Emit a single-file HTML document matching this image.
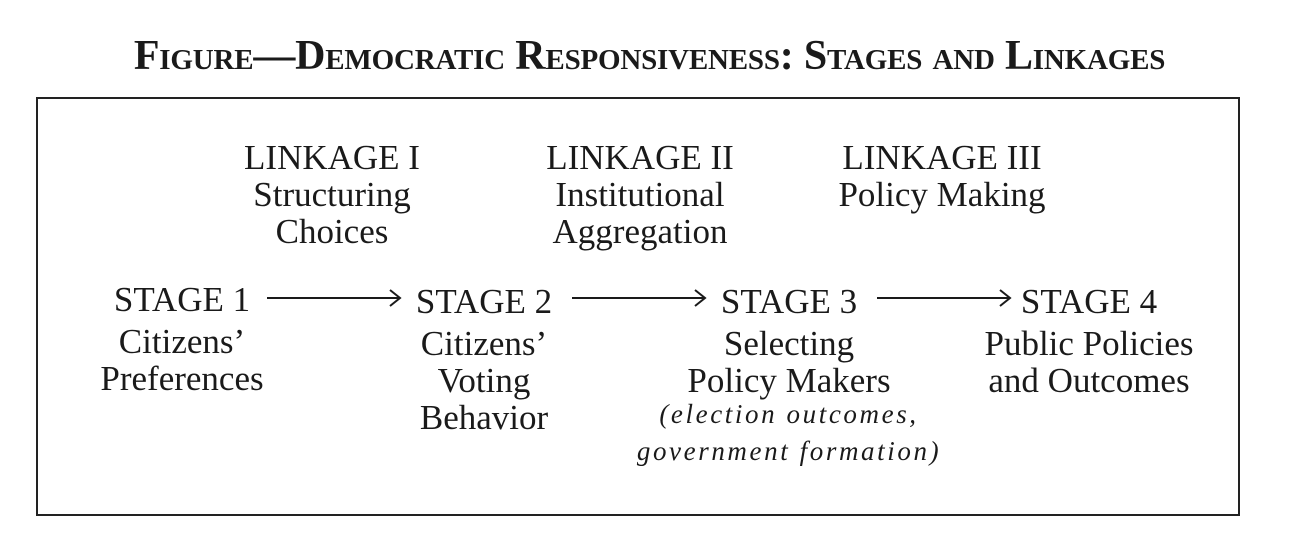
<!DOCTYPE html>
<html><head><meta charset="utf-8"><style>
body{margin:0;width:1299px;height:543px;background:#fff;position:relative;overflow:hidden;font-family:"Liberation Serif",serif;color:#1a1a1a}
.t{position:absolute;left:0;width:1299px;top:32px;text-align:center;font-weight:bold;font-variant:small-caps;font-size:42px;letter-spacing:-0.2px}
.box{position:absolute;left:36px;top:97px;width:1200px;height:415px;border:2px solid #222}
.c{position:absolute;text-align:center;font-size:35px;line-height:37px;white-space:nowrap;transform:translateX(-50%)}
.c .h{margin-bottom:5px}
.i{display:block;margin-top:-3px;font-style:italic;font-size:27px;letter-spacing:2.6px;line-height:37px}
</style></head><body>
<div class="t">Figure—Democratic Responsiveness: Stages and Linkages</div>
<div class="box"></div>
<div class="c" style="left:332px;top:139px">LINKAGE I<br>Structuring<br>Choices</div>
<div class="c" style="left:640px;top:139px">LINKAGE II<br>Institutional<br>Aggregation</div>
<div class="c" style="left:942px;top:139px">LINKAGE III<br>Policy Making</div>
<div class="c" style="left:182px;top:281px"><div class="h">STAGE 1</div>Citizens’<br>Preferences</div>
<div class="c" style="left:484px;top:283px"><div class="h">STAGE 2</div>Citizens’<br>Voting<br>Behavior</div>
<div class="c" style="left:789px;top:283px"><div class="h">STAGE 3</div>Selecting<br>Policy Makers<span class="i">(election outcomes,<br>government formation)</span></div>
<div class="c" style="left:1089px;top:283px"><div class="h">STAGE 4</div>Public Policies<br>and Outcomes</div>
<svg width="1299" height="543" style="position:absolute;left:0;top:0" fill="none" stroke="#1a1a1a" stroke-width="2">
<path d="M267 298H399M390 290L400 298L390 306"/>
<path d="M572 298H704M695 290L705 298L695 306"/>
<path d="M877 298H1009M1000 290L1010 298L1000 306"/>
</svg>
</body></html>
